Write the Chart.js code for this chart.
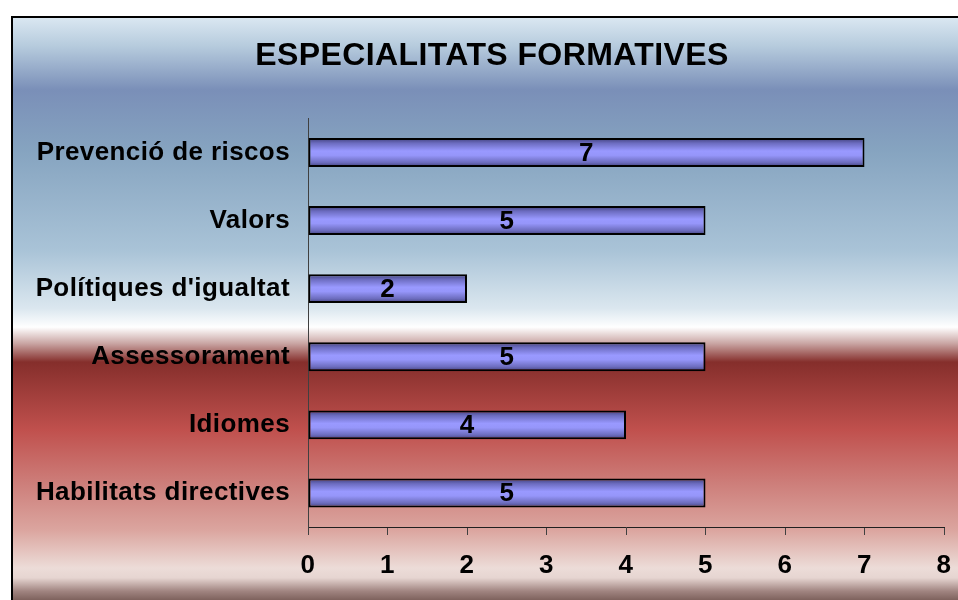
<!DOCTYPE html>
<html>
<head>
<meta charset="utf-8">
<script src="https://cdn.jsdelivr.net/npm/chart.js@4.4.0/dist/chart.umd.min.js"></script>
<style>
  html, body { margin: 0; padding: 0; background: #fff; }
  #wrap { width: 958px; height: 600px; }
</style>
</head>
<body>
<div id="wrap"><canvas id="myChart"></canvas></div>
<script>
// data
var categories = ['Prevenció de riscos', 'Valors', "Polítiques d'igualtat", 'Assessorament', 'Idiomes', 'Habilitats directives'];
var valors = [7, 5, 2, 5, 4, 5];
var xTicks = [0, 1, 2, 3, 4, 5, 6, 7, 8];
var titol = 'ESPECIALITATS FORMATIVES';

var FONT = "'Liberation Sans', Arial, sans-serif";
var BAR_PCT = 0.425;

// background band + frame, like the Excel chart area
var fonsPlugin = {
    id: 'fons',
    afterLayout: function(chart) {
        // the Excel chart runs past the right edge, so its title sits a bit right of centre
        var t = chart.titleBlock;
        if (t) { t.left = 26; t.right = 958; t.width = t.right - t.left; }
    },
    beforeDraw: function(chart) {
        var c = chart.ctx;
        var w = chart.width, h = chart.height;
        c.save();
        c.fillStyle = '#ffffff';
        c.fillRect(0, 0, w, h);
        var g = c.createLinearGradient(0, 17, 0, h);
        g.addColorStop(0.00, '#dbe8f2');
        g.addColorStop(0.05, '#b6cbdd');
        g.addColorStop(0.125, '#7a8fb8');
        g.addColorStop(0.23, '#86a4c0');
        g.addColorStop(0.40, '#a9c3d7');
        g.addColorStop(0.50, '#dbe7ef');
        g.addColorStop(0.532, '#ffffff');
        g.addColorStop(0.56, '#c9a5a3');
        g.addColorStop(0.592, '#852e2b');
        g.addColorStop(0.708, '#c0504d');
        g.addColorStop(0.80, '#cd7e7a');
        g.addColorStop(0.88, '#dba59f');
        g.addColorStop(0.945, '#ecdcd8');
        g.addColorStop(0.962, '#e6d5d1');
        g.addColorStop(0.985, '#a08480');
        g.addColorStop(1.00, '#7e625d');
        c.fillStyle = g;
        c.fillRect(12, 17, w, h);
        c.strokeStyle = '#000';
        c.lineWidth = 2;
        c.strokeRect(12, 17, w + 10, h + 10);
        c.restore();
        // Excel draws its text a little looser
        c.letterSpacing = '0.4px';
    }
};

// value written in the middle of each bar
var etiquetesPlugin = {
    id: 'etiquetes',
    afterDatasetsDraw: function(chart) {
        var c = chart.ctx;
        var meta = chart.getDatasetMeta(0);
        c.save();
        c.font = 'bold 26px ' + FONT;
        c.fillStyle = '#000';
        c.textAlign = 'center';
        c.textBaseline = 'middle';
        meta.data.forEach(function(bar, i) {
            c.fillText(String(valors[i]), (bar.x + bar.base) / 2, bar.y + 1);
        });
        c.restore();
    }
};

function colorBarra(context) {
    var chart = context.chart;
    if (!chart.chartArea) return '#9999ff';
    var y = chart.scales.y;
    var yc = y.getPixelForValue(context.dataIndex);
    var half = (y.height / categories.length) * BAR_PCT / 2;
    var g = chart.ctx.createLinearGradient(0, yc - half, 0, yc + half);
    g.addColorStop(0.00, '#3f3f78');
    g.addColorStop(0.18, '#6c6cc0');
    g.addColorStop(0.45, '#9999ff');
    g.addColorStop(0.60, '#9696fa');
    g.addColorStop(0.85, '#6c6cbd');
    g.addColorStop(1.00, '#3f3f78');
    return g;
}

var ctx = document.getElementById('myChart').getContext('2d');
var myChart = new Chart(ctx, {
    type: 'bar',
    data: {
        labels: categories,
        datasets: [{
            data: valors,
            backgroundColor: colorBarra,
            borderColor: '#000',
            borderWidth: 2,
            borderSkipped: false,
            barPercentage: BAR_PCT,
            categoryPercentage: 1
        }]
    },
    options: {
        indexAxis: 'y',
        responsive: true,
        maintainAspectRatio: false,
        animation: false,
        layout: { padding: { left: 12, right: 14, top: 0, bottom: 0 } },
        plugins: {
            legend: { display: false },
            tooltip: { enabled: false },
            title: {
                display: true,
                text: titol,
                color: '#000',
                font: { family: FONT, size: 32, weight: 'bold' },
                padding: { top: 37, bottom: 43 }
            }
        },
        scales: {
            x: {
                type: 'linear',
                min: 0,
                max: 8,
                afterFit: function(s) {
                    s.height = 73;
                    s.paddingLeft = 0;
                    s.paddingRight = 0;
                },
                afterBuildTicks: function(s) {
                    s.ticks = xTicks.map(function(v) { return { value: v }; });
                },
                grid: {
                    display: true,
                    drawOnChartArea: false,
                    drawTicks: true,
                    tickLength: 8,
                    color: '#404040',
                    lineWidth: 1
                },
                border: { display: true, color: '#202020', width: 1 },
                ticks: {
                    color: '#000',
                    padding: 15,
                    maxRotation: 0,
                    font: { family: FONT, size: 26, weight: 'bold' }
                }
            },
            y: {
                afterFit: function(s) { s.width = 308 - 12; },
                grid: { display: false, drawTicks: false },
                border: { display: true, color: '#404040', width: 1 },
                ticks: {
                    color: '#000',
                    padding: 18,
                    font: { family: FONT, size: 26, weight: 'bold' }
                }
            }
        }
    },
    plugins: [fonsPlugin, etiquetesPlugin]
});
</script>
</body>
</html>
